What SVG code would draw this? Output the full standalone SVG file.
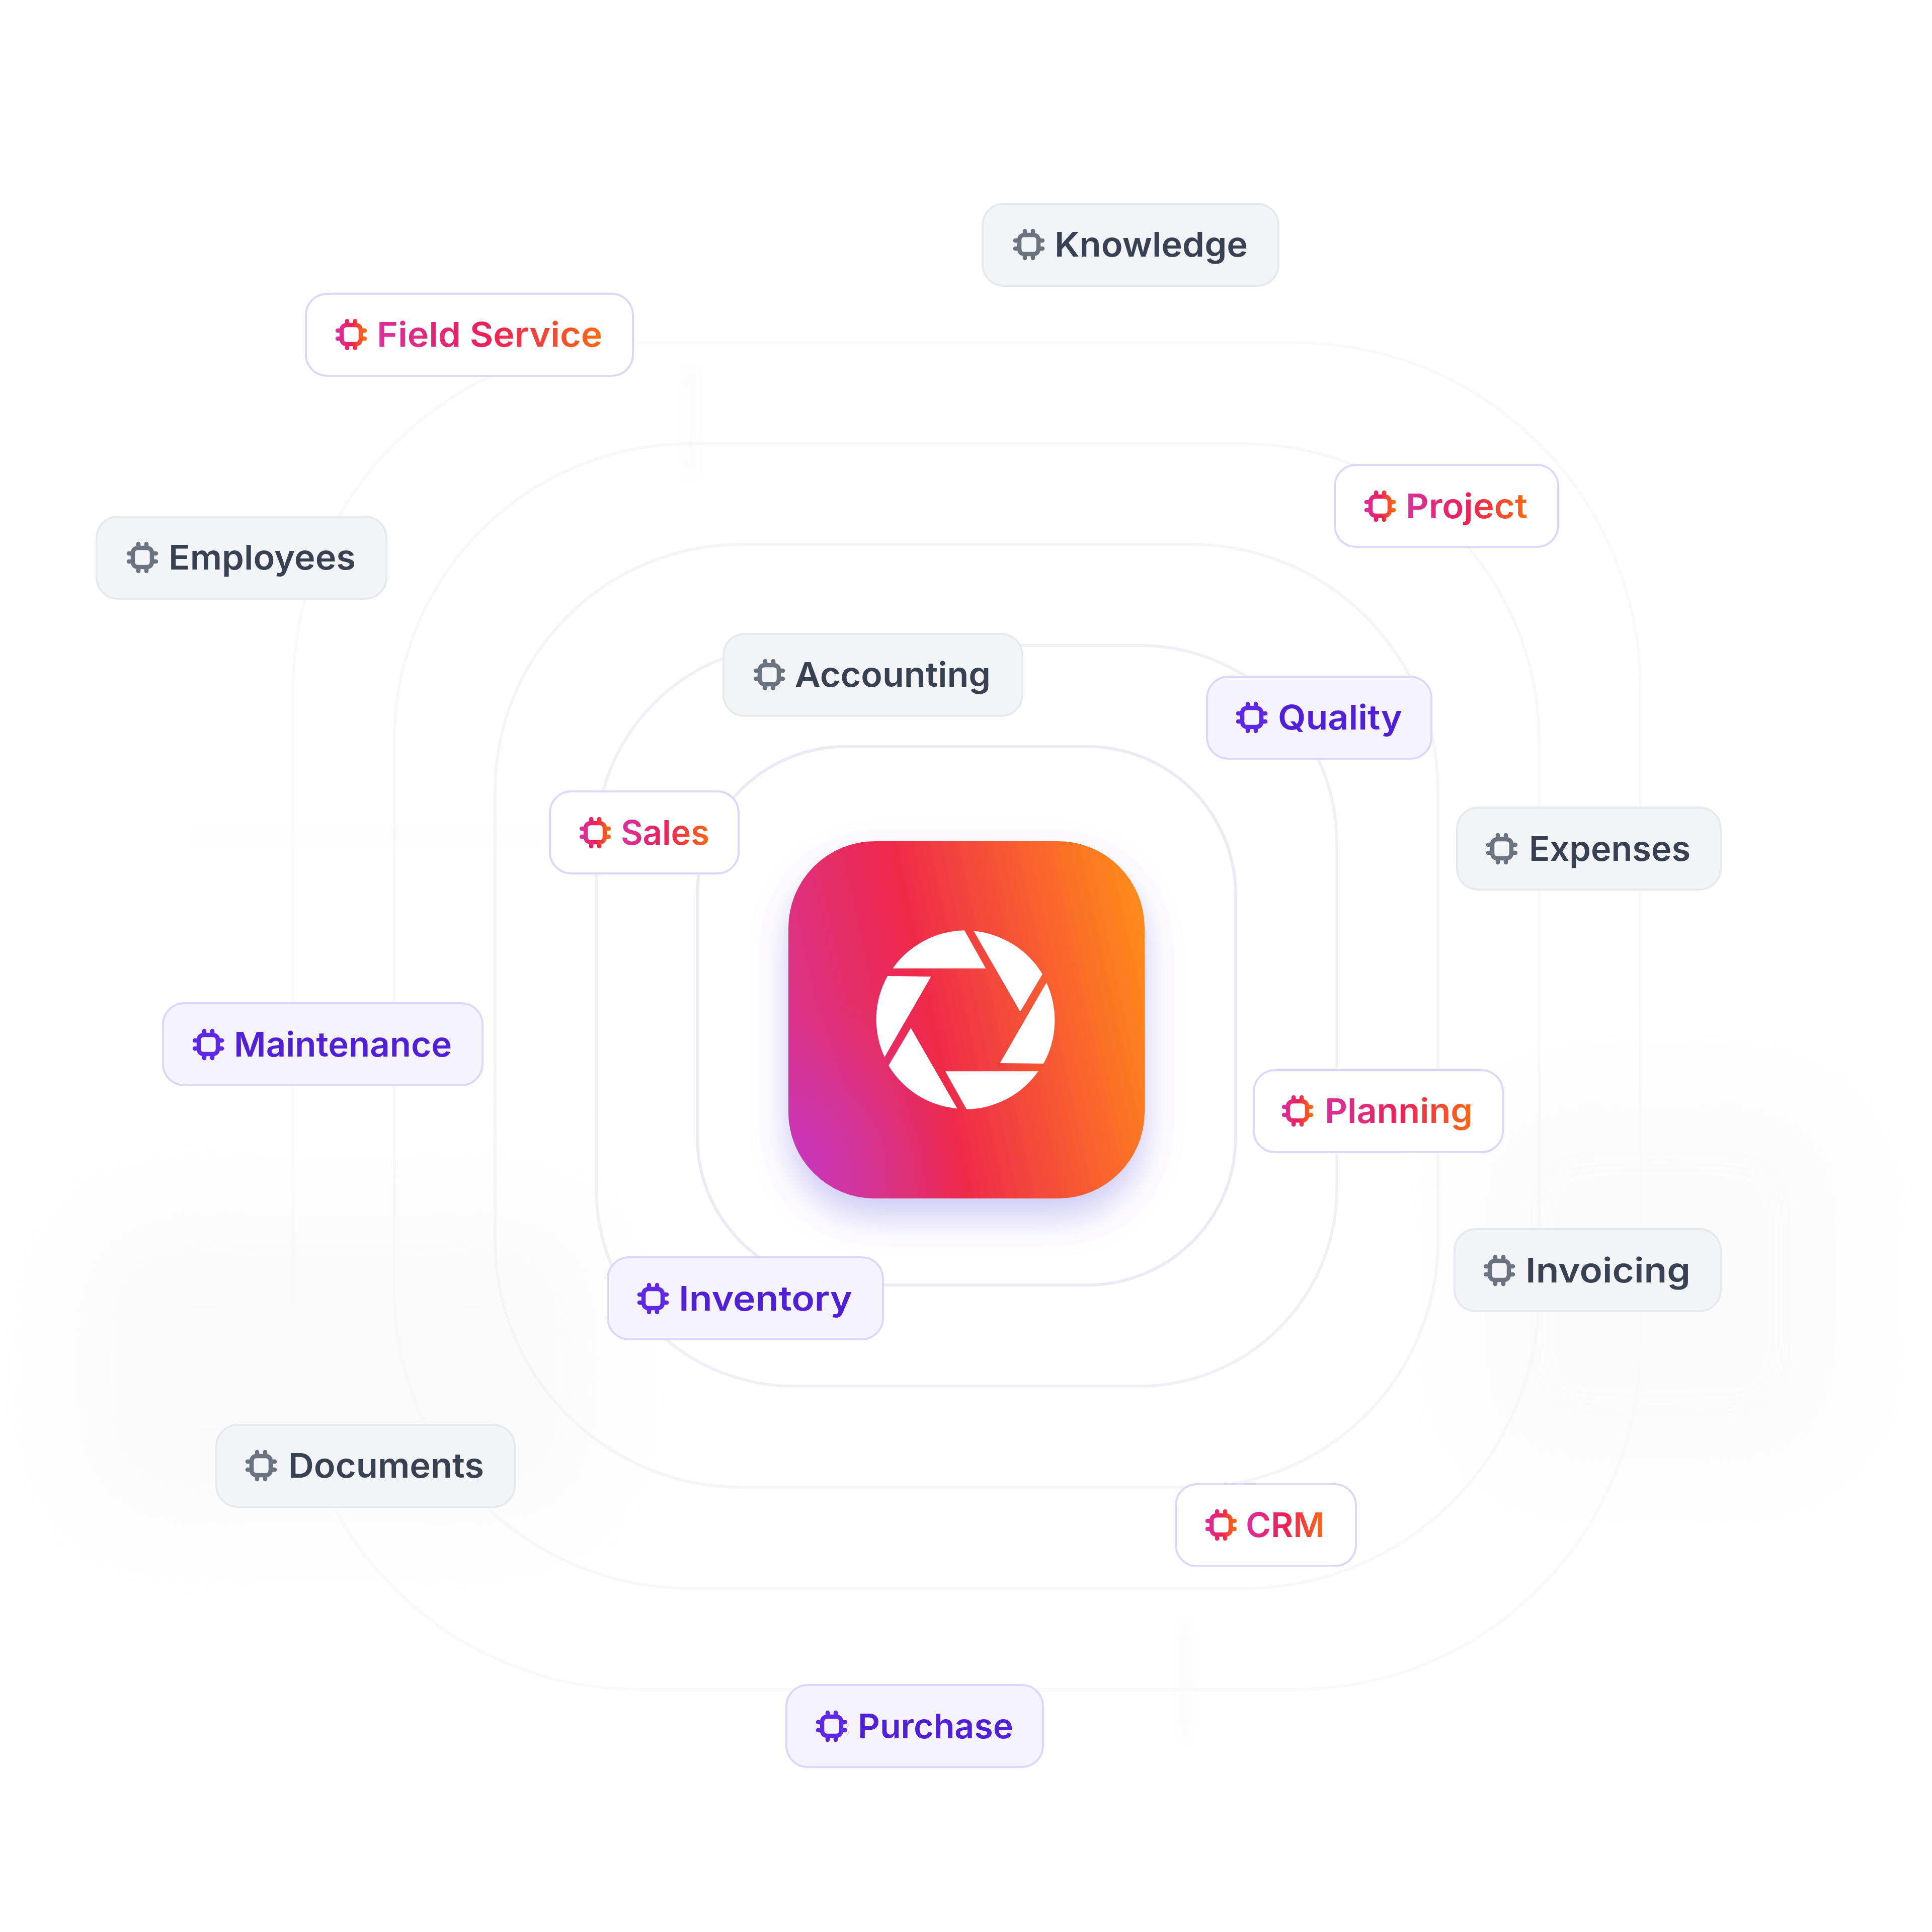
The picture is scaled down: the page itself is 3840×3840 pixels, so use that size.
<svg xmlns="http://www.w3.org/2000/svg" xmlns:xlink="http://www.w3.org/1999/xlink" width="3840" height="3840" viewBox="0 0 3840 3840">
<style>
.ring{fill:none;stroke-width:6}
.box{stroke-width:4}
.gray .box{fill:#f3f4f7;stroke:#e8e9ed}
.lav .box{fill:#f5f3ff;stroke:#ddd6fe}
.wht .box{fill:#fff;stroke:#ddd6fe}
.chip{fill:none;stroke-width:8.5;stroke-linecap:round;stroke-linejoin:round}
.gray use{stroke:#6b7280}
.lav use{stroke:#5f27e6}
.wht use{stroke:url(#warm)}
text{font-family:"Inter","Liberation Sans",sans-serif;font-weight:600;font-size:68px}
.gray text{fill:#374151}
.lav text{fill:#5020d8}
.wht text{fill:url(#warm)}
</style>
<defs>
<linearGradient id="warm" x1="0" y1="0" x2="1" y2="0"><stop offset="0" stop-color="#d9309c"/><stop offset="0.5" stop-color="#ee2058"/><stop offset="1" stop-color="#ff6a13"/></linearGradient>
<linearGradient id="logo" gradientUnits="userSpaceOnUse" x1="1596" y1="2270" x2="2331" y2="2111"><stop offset="0" stop-color="#d83290"/><stop offset="0.395" stop-color="#ef2a4a"/><stop offset="1" stop-color="#ff8a1a"/></linearGradient>
<radialGradient id="logoGlow" gradientUnits="userSpaceOnUse" cx="1560" cy="2330" r="360"><stop offset="0" stop-color="#c437c8" stop-opacity="0.9"/><stop offset="0.55" stop-color="#c837b4" stop-opacity="0.4"/><stop offset="1" stop-color="#d4358e" stop-opacity="0"/></radialGradient>
<filter id="soft" x="-50%" y="-50%" width="200%" height="200%"><feGaussianBlur stdDeviation="90"/></filter>
<filter id="faint" x="-50%" y="-50%" width="200%" height="200%"><feGaussianBlur stdDeviation="14"/></filter>
<filter id="shadow" x="-25%" y="-25%" width="150%" height="160%"><feDropShadow dx="0" dy="36" stdDeviation="36" flood-color="#5a46dc" flood-opacity="0.3"/></filter>
<path id="ic" class="chip" d="M-8-19H8Q19-19 19-8V8Q19 19 8 19H-8Q-19 19-19 8V-8Q-19-19-8-19ZM-8-27V-21M8-27V-21M-8 21V27M8 21V27M-27-8H-21M-27 8H-21M21-8H27M21 8H27"/>
<path id="blade" fill="#fff" d="M-144.6-102.3A178 178 0 0 1-2.1-177.8L40.2-102.3Z"/>
</defs>
<rect width="3840" height="3840" fill="#fff"/>
<g id="haze">
<rect x="120" y="2380" width="1100" height="680" rx="200" fill="#f7f7f7" opacity="0.5" filter="url(#soft)"/>
<rect x="2900" y="2150" width="800" height="800" rx="200" fill="#f7f7f7" opacity="0.45" filter="url(#soft)"/>
<rect x="380" y="1650" width="700" height="24" fill="#f4f4f4" opacity="0.3" filter="url(#faint)"/>
<rect x="1362" y="730" width="24" height="220" fill="#eeeeee" opacity="0.3" filter="url(#faint)"/>
<rect x="2345" y="3220" width="22" height="240" fill="#eeeeee" opacity="0.3" filter="url(#faint)"/>
</g>
<g id="connectors">
<rect class="ring" x="583" y="681" width="2677" height="2677" rx="686" stroke="#fafafb"/>
<rect class="ring" x="784" y="882" width="2275" height="2275" rx="588" stroke="#f8f8fa"/>
<rect class="ring" x="984" y="1082" width="1874" height="1874" rx="490" stroke="#f5f5f8"/>
<rect class="ring" x="1185" y="1283" width="1472" height="1472" rx="392" stroke="#f1f0f6"/>
<rect class="ring" x="1386" y="1484" width="1070" height="1070" rx="294" stroke="#ecebf5"/>
</g>
<g id="logo-node">
<rect x="1567" y="1672" width="708" height="710" rx="172" fill="url(#logo)" filter="url(#shadow)"/>
<rect x="1567" y="1672" width="708" height="710" rx="172" fill="url(#logoGlow)"/>
<g transform="translate(1919 2027)">
<use xlink:href="#blade"/><use xlink:href="#blade" transform="rotate(60)"/><use xlink:href="#blade" transform="rotate(120)"/><use xlink:href="#blade" transform="rotate(180)"/><use xlink:href="#blade" transform="rotate(240)"/><use xlink:href="#blade" transform="rotate(300)"/>
</g>
</g>
<g id="knowledge" class="gray"><rect class="box" x="1953" y="405" width="588" height="163" rx="42"/><use xlink:href="#ic" x="2045" y="486"/><text x="2096" y="510" textLength="384" lengthAdjust="spacingAndGlyphs">Knowledge</text></g>
<g id="field-service" class="wht"><rect class="box" x="608" y="584" width="650" height="163" rx="42"/><use xlink:href="#ic" x="698" y="665"/><text x="749" y="689" textLength="448" lengthAdjust="spacingAndGlyphs">Field Service</text></g>
<g id="project" class="wht"><rect class="box" x="2653" y="924" width="444" height="163" rx="42"/><use xlink:href="#ic" x="2743" y="1006"/><text x="2794" y="1030" textLength="242" lengthAdjust="spacingAndGlyphs">Project</text></g>
<g id="employees" class="gray"><rect class="box" x="192" y="1027" width="576" height="163" rx="42"/><use xlink:href="#ic" x="283" y="1108"/><text x="335" y="1132" textLength="372" lengthAdjust="spacingAndGlyphs">Employees</text></g>
<g id="accounting" class="gray"><rect class="box" x="1438" y="1260" width="594" height="163" rx="42"/><use xlink:href="#ic" x="1529" y="1341"/><text x="1580" y="1365" textLength="389" lengthAdjust="spacingAndGlyphs">Accounting</text></g>
<g id="quality" class="lav"><rect class="box" x="2399" y="1345" width="446" height="163" rx="42"/><use xlink:href="#ic" x="2488" y="1426"/><text x="2540" y="1450" textLength="247" lengthAdjust="spacingAndGlyphs">Quality</text></g>
<g id="sales" class="wht"><rect class="box" x="1093" y="1573" width="375" height="163" rx="42"/><use xlink:href="#ic" x="1183" y="1655"/><text x="1234" y="1679" textLength="176" lengthAdjust="spacingAndGlyphs">Sales</text></g>
<g id="expenses" class="gray"><rect class="box" x="2896" y="1605" width="524" height="163" rx="42"/><use xlink:href="#ic" x="2985" y="1687"/><text x="3039" y="1711" textLength="321" lengthAdjust="spacingAndGlyphs">Expenses</text></g>
<g id="maintenance" class="lav"><rect class="box" x="324" y="1994" width="635" height="163" rx="42"/><use xlink:href="#ic" x="414" y="2076"/><text x="465" y="2100" textLength="433" lengthAdjust="spacingAndGlyphs">Maintenance</text></g>
<g id="planning" class="wht"><rect class="box" x="2492" y="2127" width="495" height="163" rx="42"/><use xlink:href="#ic" x="2579" y="2208"/><text x="2633" y="2232" textLength="294" lengthAdjust="spacingAndGlyphs">Planning</text></g>
<g id="invoicing" class="gray"><rect class="box" x="2891" y="2443" width="529" height="163" rx="42"/><use xlink:href="#ic" x="2980" y="2525"/><text x="3032" y="2549" textLength="328" lengthAdjust="spacingAndGlyphs">Invoicing</text></g>
<g id="inventory" class="lav"><rect class="box" x="1208" y="2499" width="547" height="163" rx="42"/><use xlink:href="#ic" x="1298" y="2581"/><text x="1349" y="2605" textLength="345" lengthAdjust="spacingAndGlyphs">Inventory</text></g>
<g id="documents" class="gray"><rect class="box" x="430" y="2832" width="593" height="163" rx="42"/><use xlink:href="#ic" x="519" y="2913"/><text x="573" y="2937" textLength="389" lengthAdjust="spacingAndGlyphs">Documents</text></g>
<g id="crm" class="wht"><rect class="box" x="2337" y="2950" width="358" height="163" rx="42"/><use xlink:href="#ic" x="2427" y="3031"/><text x="2476" y="3055" textLength="157" lengthAdjust="spacingAndGlyphs">CRM</text></g>
<g id="purchase" class="lav"><rect class="box" x="1563" y="3349" width="510" height="163" rx="42"/><use xlink:href="#ic" x="1653" y="3431"/><text x="1705" y="3455" textLength="309" lengthAdjust="spacingAndGlyphs">Purchase</text></g>
</svg>
